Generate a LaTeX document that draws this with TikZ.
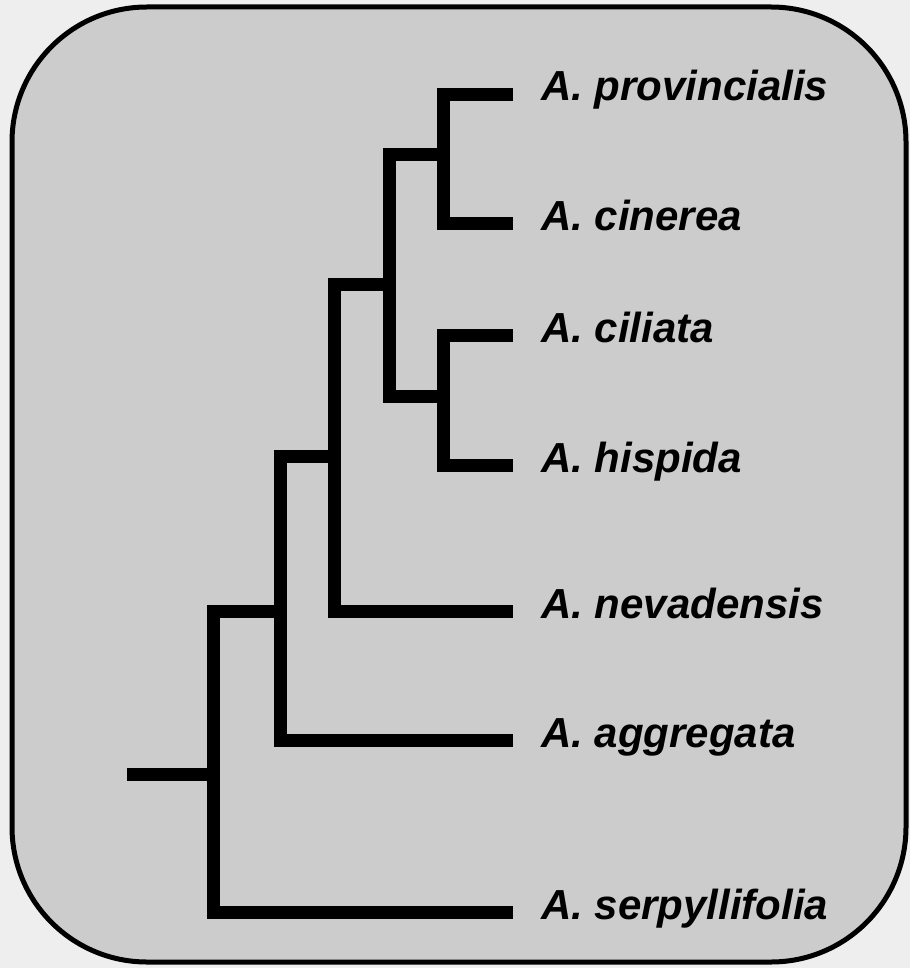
\documentclass[tikz,border=0pt]{standalone}
\usepackage{fontspec}
\setmainfont{Liberation Sans}
\definecolor{outerbg}{RGB}{238,238,238}
\definecolor{boxfill}{RGB}{204,204,204}
\begin{document}
\begin{tikzpicture}[x=1pt,y=-1pt,
  branch/.style={line width=13pt,line join=miter,line cap=butt,black},
  taxon/.style={anchor=base west,inner sep=0pt,font=\fontsize{42}{42}\selectfont\bfseries\itshape}]
\useasboundingbox (0,0) rectangle (910,968);
\fill[outerbg] (0,0) rectangle (910,968);
\draw[line width=5pt,fill=boxfill,rounded corners=135pt] (12,7) rectangle (906,962);
% junction coordinates
\coordinate (rs) at (127,774);
\coordinate (R) at (213,774);
\coordinate (Rt) at (213,611);
\coordinate (Rb) at (213,912);
\coordinate (B) at (280,611);
\coordinate (Bt) at (280,456);
\coordinate (Bb) at (280,740);
\coordinate (C) at (334,456);
\coordinate (Ct) at (334,284);
\coordinate (Cb) at (334,611);
\coordinate (D) at (389,284);
\coordinate (Dt) at (389,155);
\coordinate (Db) at (389,396);
\coordinate (E) at (443,155);
\coordinate (Et) at (443,95);
\coordinate (Eb) at (443,224);
\coordinate (F) at (443,396);
\coordinate (Ft) at (443,335);
\coordinate (Fb) at (443,465);
% leaf ends
\coordinate (l1) at (513,95);
\coordinate (l2) at (513,224);
\coordinate (l3) at (513,335);
\coordinate (l4) at (513,465);
\coordinate (l5) at (513,611);
\coordinate (l6) at (513,740);
\coordinate (l7) at (513,912);
% labels
\node[taxon] (t1) at (541,101) {A. provincialis};
\node[taxon] (t2) at (541,231) {A. cinerea};
\node[taxon] (t3) at (541,342) {A. ciliata};
\node[taxon] (t4) at (541,472) {A. hispida};
\node[taxon] (t5) at (541,618) {A. nevadensis};
\node[taxon] (t6) at (541,747) {A. aggregata};
\node[taxon] (t7) at (541,919) {A. serpyllifolia};
% branches
\draw[branch] (rs) -- (R);
\draw[branch] (B) -- (Rt) -- (Rb) -- (l7);
\draw[branch] (C) -- (Bt) -- (Bb) -- (l6);
\draw[branch] (D) -- (Ct) -- (Cb) -- (l5);
\draw[branch] (E) -- (Dt) -- (Db) -- (F);
\draw[branch] (l1) -- (Et) -- (Eb) -- (l2);
\draw[branch] (l3) -- (Ft) -- (Fb) -- (l4);
\end{tikzpicture}
\end{document}
